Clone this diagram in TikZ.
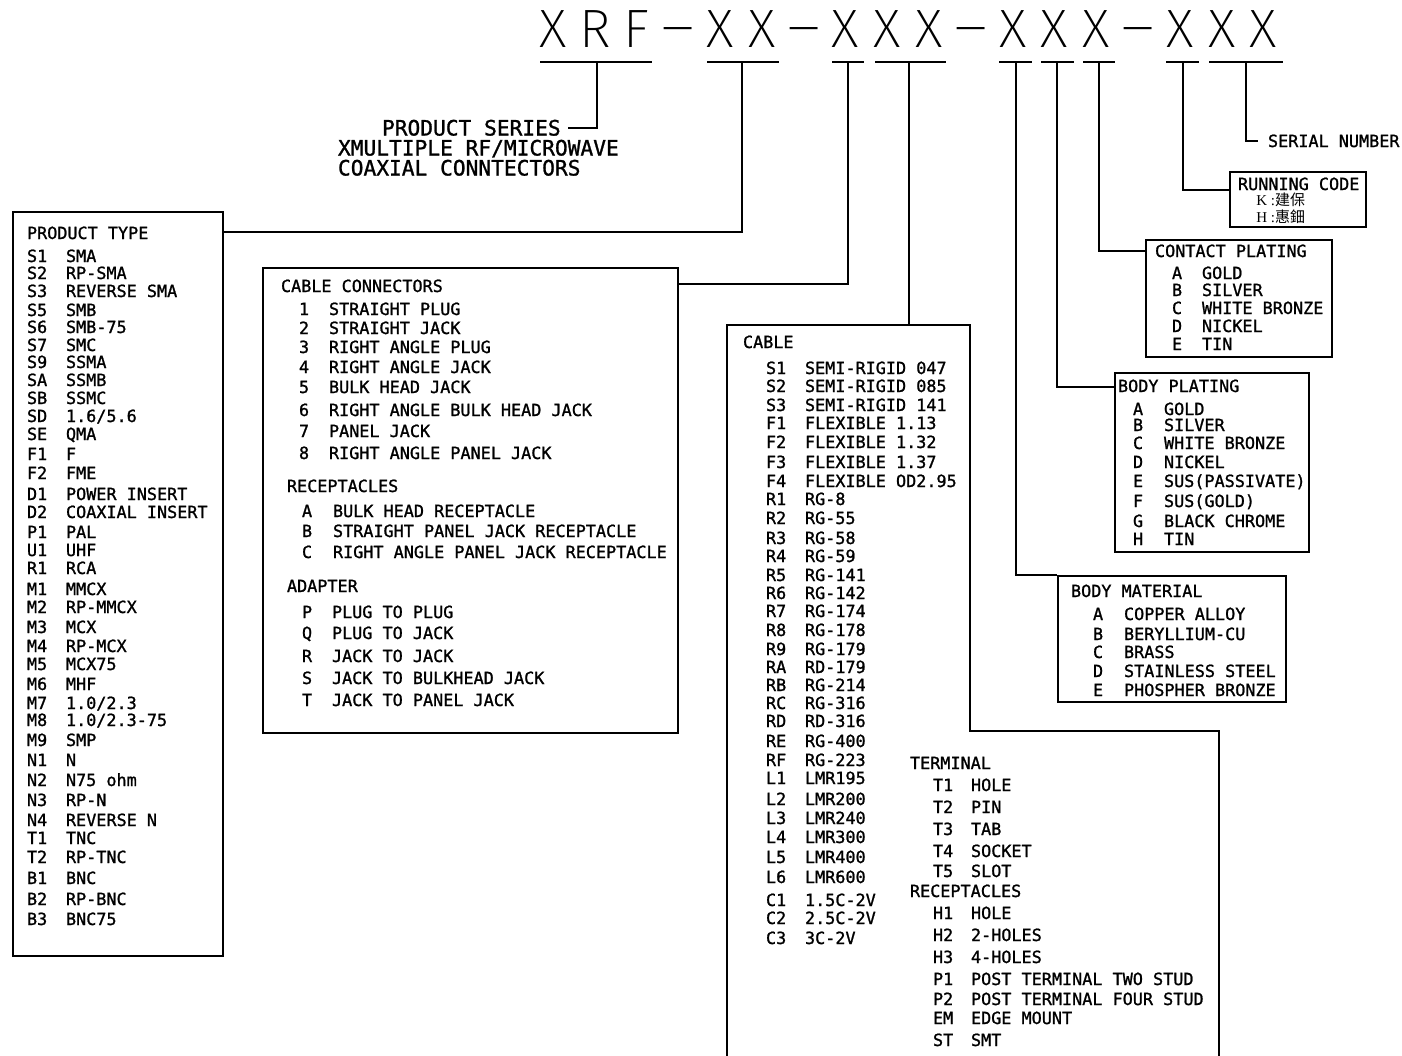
\documentclass[tikz,border=0pt]{standalone}
\usepackage{fontspec}
\usepackage{graphicx}
\usetikzlibrary{fit}
\newfontfamily\cad{DejaVu Sans Mono}[FakeBold=1.2]
\def\hdrsize{25.4pt}
\IfFontExistsTF{Fira Sans ExtraLight}{\newfontfamily\hdr{Fira Sans ExtraLight}\def\hdrsize{27pt}}{%
 \IfFontExistsTF{Lato Thin}{\newfontfamily\hdr{Lato Thin}\def\hdrsize{25.8pt}}{%
  \IfFontExistsTF{DejaVu Sans ExtraLight}{\newfontfamily\hdr{DejaVu Sans ExtraLight}}{%
   \IfFontExistsTF{Lato Light}{\newfontfamily\hdr{Lato Light}\def\hdrsize{25.8pt}}{%
    \newfontfamily\hdr{DejaVu Sans}}}}}
\newfontfamily\cjk{Noto Sans CJK TC}
\newfontfamily\lser{Liberation Serif}
\newcommand\hdash{\raisebox{1pt}{\scalebox{2}[1]{-}}}
\newcommand\lstentries[4]{%
  \foreach \yy/\cc/\nn in {#4} {%
    \node[t] (#1\cc) at (#2,\yy) {\cc};
    \node[t] (#1\cc n) at (#3,\yy) {\nn};
  }}
\begin{document}
\begin{tikzpicture}[x=0.5pt,y=-0.5pt,
  t/.style={anchor=base west, inner sep=0pt, outer sep=0pt, yshift=-3pt,
    font=\cad\fontsize{8.4pt}{10pt}\selectfont},
  tb/.style={anchor=base west, inner sep=0pt, outer sep=0pt, yshift=-3.75pt,
    font=\cad\fontsize{10.6pt}{12pt}\selectfont},
  hd/.style={anchor=base, inner sep=0pt, font=\hdr\fontsize{\hdrsize}{30pt}\selectfont},
  box/.style={draw, line width=1pt, inner sep=0pt},
  ln/.style={line width=1pt}]
\useasboundingbox (0,0) rectangle (1402,1055);
% header
\foreach \ch [count=\i] in {X,R,F,\hdash,X,X,\hdash,X,X,X,\hdash,X,X,X,\hdash,X,X,X}
  \node[hd] (h\i) at ({553+41.8*(\i-1)},47) {\ch};
% underlines
\foreach \a/\b/\tk [count=\i] in {540/652/597,707/779/742,832/864/848,875/946/909,999/1032/1016,1041/1074/1057,1083/1115/1099,1166/1199/1183,1209/1283/1246}{
  \coordinate (ua\i) at (\a,62);
  \coordinate (ub\i) at (\b,62);
  \coordinate (t\i) at (\tk,62);
  \draw[ln] (ua\i) -- (ub\i);
}
% product series
\node[tb] (ps) at (382,128) {PRODUCT SERIES};
\node[tb] (ps2) at (338,148) {XMULTIPLE RF/MICROWAVE};
\node[tb] (ps3) at (338,168) {COAXIAL CONNTECTORS};
\draw[ln] (t1) |- ([xshift=3.5pt]ps.east);
% product type
\node[box, fit={(13,212)(223,956)}] (ptbox) {};
\node[t] (pth) at (27,233) {PRODUCT TYPE};
\lstentries{pt}{27}{66}{256/S1/SMA,273/S2/RP-SMA,291/S3/REVERSE SMA,310/S5/SMB,327/S6/SMB-75,345/S7/SMC,362/S9/SSMA,380/SA/SSMB,398/SB/SSMC,416/SD/{1.6/5.6},434/SE/QMA,454/F1/F,473/F2/FME,494/D1/POWER INSERT,512/D2/COAXIAL INSERT,532/P1/PAL,550/U1/UHF,568/R1/RCA,589/M1/MMCX,607/M2/RP-MMCX,627/M3/MCX,646/M4/RP-MCX,664/M5/MCX75,684/M6/MHF,703/M7/{1.0/2.3},720/M8/{1.0/2.3-75},740/M9/SMP,760/N1/N,780/N2/N75 ohm,800/N3/RP-N,820/N4/REVERSE N,838/T1/TNC,857/T2/RP-TNC,878/B1/BNC,899/B2/RP-BNC,919/B3/BNC75}
\draw[ln] (t2) |- ([yshift=-10.5pt]ptbox.north east);
% cable connectors
\node[box, fit={(263,268)(678,733)}] (ccbox) {};
\node[t] (cch) at (281,286) {CABLE CONNECTORS};
\lstentries{cc}{299}{329}{309/1/STRAIGHT PLUG,328/2/STRAIGHT JACK,347/3/RIGHT ANGLE PLUG,367/4/RIGHT ANGLE JACK,387/5/BULK HEAD JACK,410/6/RIGHT ANGLE BULK HEAD JACK,431/7/PANEL JACK,453/8/RIGHT ANGLE PANEL JACK}
\node[t] (rch) at (287,486) {RECEPTACLES};
\lstentries{rc}{302}{333}{511/A/BULK HEAD RECEPTACLE,531/B/STRAIGHT PANEL JACK RECEPTACLE,552/C/RIGHT ANGLE PANEL JACK RECEPTACLE}
\node[t] (adh) at (287,586) {ADAPTER};
\lstentries{ad}{302}{332}{612/P/PLUG TO PLUG,633/Q/PLUG TO JACK,656/R/JACK TO JACK,678/S/JACK TO BULKHEAD JACK,700/T/JACK TO PANEL JACK}
\draw[ln] (t3) |- ([yshift=-8.5pt]ccbox.north east);
% cable outline
\coordinate (cb1) at (727,1060);
\coordinate (cb2) at (727,325);
\coordinate (cb3) at (970,325);
\coordinate (cb4) at (970,731);
\coordinate (cb5) at (1219,731);
\coordinate (cb6) at (1219,1060);
\draw[ln] (cb1) -- (cb2) -- (cb3) -- (cb4) -- (cb5) -- (cb6);
\draw[ln] (t4) -- (t4 |- cb2);
\node[t] (cah) at (743,342) {CABLE};
\lstentries{ca}{766}{805}{368/S1/SEMI-RIGID 047,386/S2/SEMI-RIGID 085,405/S3/SEMI-RIGID 141,423/F1/FLEXIBLE 1.13,442/F2/FLEXIBLE 1.32,462/F3/FLEXIBLE 1.37,481/F4/FLEXIBLE OD2.95,499/R1/RG-8,518/R2/RG-55,538/R3/RG-58,556/R4/RG-59,575/R5/RG-141,593/R6/RG-142,611/R7/RG-174,630/R8/RG-178,649/R9/RG-179,667/RA/RD-179,685/RB/RG-214,703/RC/RG-316,721/RD/RD-316,741/RE/RG-400,760/RF/RG-223,778/L1/LMR195,799/L2/LMR200,818/L3/LMR240,837/L4/LMR300,857/L5/LMR400,877/L6/LMR600,900/C1/1.5C-2V,918/C2/2.5C-2V,938/C3/3C-2V}
\node[t] (tmh) at (910,763) {TERMINAL};
\lstentries{tm}{933}{971}{785/T1/HOLE,807/T2/PIN,829/T3/TAB,851/T4/SOCKET,871/T5/SLOT}
\node[t] (trh) at (910,891) {RECEPTACLES};
\lstentries{tr}{933}{971}{913/H1/HOLE,935/H2/2-HOLES,957/H3/4-HOLES,979/P1/POST TERMINAL TWO STUD,999/P2/POST TERMINAL FOUR STUD,1018/EM/EDGE MOUNT,1040/ST/SMT}
% body material
\node[box, fit={(1058,576)(1286,702)}] (bmbox) {};
\node[t] (bmh) at (1071,591) {BODY MATERIAL};
\lstentries{bm}{1093}{1124}{614/A/COPPER ALLOY,634/B/BERYLLIUM-CU,652/C/BRASS,671/D/STAINLESS STEEL,690/E/PHOSPHER BRONZE}
\draw[ln] (t5) |- (bmbox.north west);
% body plating
\node[box, fit={(1115,373)(1309,552)}] (bpbox) {};
\node[t] (bph) at (1118,386) {BODY PLATING};
\lstentries{bp}{1133}{1164}{409/A/GOLD,425/B/SILVER,443/C/WHITE BRONZE,462/D/NICKEL,481/E/SUS(PASSIVATE),501/F/SUS(GOLD),521/G/BLACK CHROME,539/H/TIN}
\draw[ln] (t6) |- ([yshift=-7.5pt]bpbox.north west);
% contact plating
\node[box, fit={(1146,240)(1332,357)}] (cpbox) {};
\node[t] (cph) at (1155,251) {CONTACT PLATING};
\lstentries{cp}{1172}{1202}{273/A/GOLD,290/B/SILVER,308/C/WHITE BRONZE,326/D/NICKEL,344/E/TIN}
\draw[ln] (t7) |- ([yshift=-6pt]cpbox.north west);
% running code
\node[box, fit={(1230,172)(1366,227)}] (rcbox) {};
\node[t] (rcth) at (1238,184) {RUNNING CODE};
\node[anchor=base west, inner sep=0pt, yshift=-2.5pt] (rck) at (1256,200) {\fontsize{7.5pt}{9pt}\selectfont\lser K :\cjk 建保};
\node[anchor=base west, inner sep=0pt, yshift=-2.5pt] (rch2) at (1256,217) {\fontsize{7.5pt}{9pt}\selectfont\lser H :\cjk 惠鈿};
\draw[ln] (t8) |- ([yshift=-9.5pt]rcbox.north west);
% serial number
\node[t] (sn) at (1268,141) {SERIAL NUMBER};
\draw[ln] (t9) |- ([xshift=-5pt]sn.west);
\end{tikzpicture}
\end{document}
